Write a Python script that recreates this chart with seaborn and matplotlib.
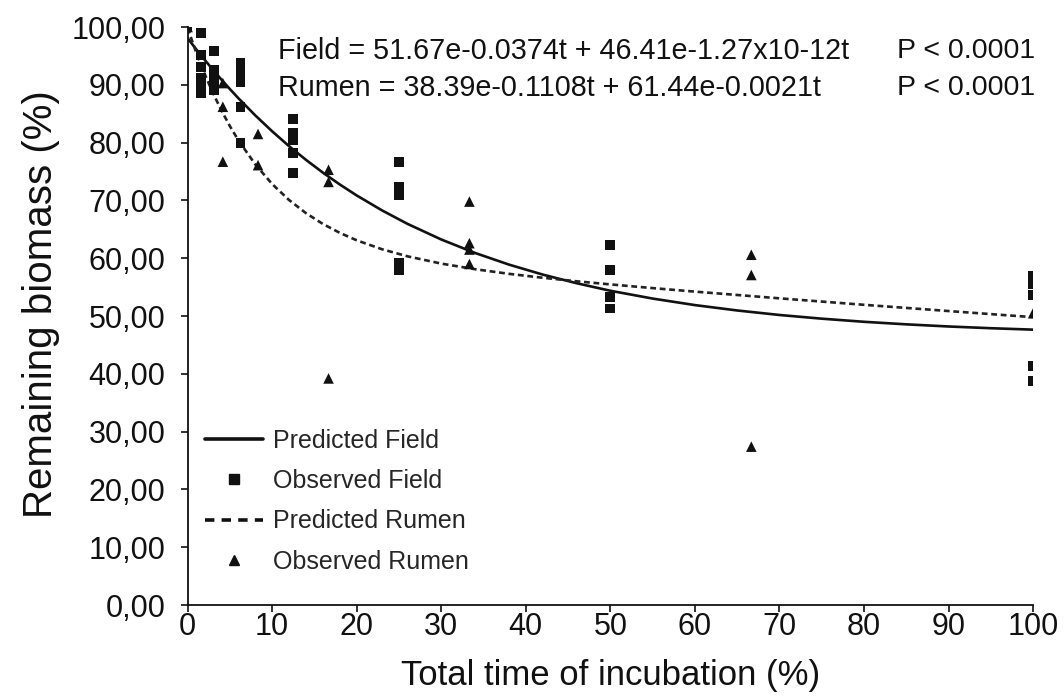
import matplotlib
matplotlib.use("Agg")
import matplotlib.pyplot as plt
from matplotlib.ticker import FuncFormatter
from matplotlib.lines import Line2D
import seaborn as sns
import pandas as pd

# ---- data ----
field_t = [0,
           1.56, 1.56, 1.56, 1.56, 1.56, 1.56,
           3.125, 3.125, 3.125, 3.125,
           6.25, 6.25, 6.25, 6.25, 6.25,
           12.5, 12.5, 12.5, 12.5, 12.5,
           25, 25, 25, 25, 25,
           50, 50, 50, 50,
           100, 100, 100, 100, 100]
field_y = [100,
           99.0, 95.2, 93.1, 91.2, 90.0, 88.6,
           95.8, 92.6, 90.8, 89.1,
           93.8, 92.2, 90.5, 86.2, 80.0,
           84.1, 81.7, 80.4, 78.2, 74.8,
           76.6, 72.3, 70.9, 59.2, 58.0,
           62.3, 58.0, 53.3, 51.3,
           57.0, 55.5, 53.6, 41.3, 38.8]

rumen_t = [0,
           4.17, 4.17, 4.17,
           8.33, 8.33,
           16.67, 16.67, 16.67,
           33.33, 33.33, 33.33, 33.33,
           66.67, 66.67, 66.67,
           100]
rumen_y = [100,
           90.3, 86.2, 76.7,
           81.5, 76.1,
           75.3, 73.2, 39.2,
           69.8, 62.6, 61.5, 59.0,
           60.6, 57.1, 27.4,
           50.5]

# predicted curves
pred_t = [0, 1, 2, 3, 4, 5, 6, 8, 10, 12, 14, 16, 18, 20, 23, 26, 30, 34, 38,
          42, 46, 50, 55, 60, 65, 70, 75, 80, 85, 90, 95, 100]
pred_field = [98.08, 96.18, 94.36, 92.60, 90.90, 89.27, 87.69, 84.72, 81.96,
              79.39, 77.02, 74.81, 72.76, 70.86, 68.27, 65.95, 63.24, 60.91,
              58.90, 57.17, 55.68, 54.37, 53.02, 51.89, 50.96, 50.18, 49.54,
              49.00, 48.56, 48.19, 47.89, 47.64]
pred_rumen = [99.83, 95.67, 91.94, 88.58, 85.58, 82.86, 80.42, 76.24, 72.84,
              70.07, 67.80, 65.93, 64.39, 63.10, 61.55, 60.33, 59.07, 58.10,
              57.30, 56.62, 56.01, 55.47, 54.83, 54.22, 53.64, 53.06, 52.50,
              51.94, 51.40, 50.86, 50.33, 49.80]

eq_field = "Field = 51.67e-0.0374t + 46.41e-1.27x10-12t"
eq_rumen = "Rumen = 38.39e-0.1108t + 61.44e-0.0021t"
p_text = "P < 0.0001"
x_ticks = list(range(0, 101, 10))
y_ticks = list(range(0, 101, 10))

sns.set_style("ticks")
plt.rcParams["font.family"] = ["Liberation Sans", "DejaVu Sans"]

ink = "#111111"
fig = plt.figure(figsize=(10.64, 6.98), dpi=100)
ax = fig.add_axes([0.1763, 0.1332, 0.7947, 0.8281])

df_pred = pd.DataFrame({"t": pred_t, "field": pred_field, "rumen": pred_rumen})
df_f = pd.DataFrame({"t": field_t, "y": field_y})
df_r = pd.DataFrame({"t": rumen_t, "y": rumen_y})

sns.lineplot(data=df_pred, x="t", y="field", ax=ax, color=ink, lw=1.9,
             estimator=None, sort=True)
sns.lineplot(data=df_pred, x="t", y="rumen", ax=ax, color="#222222", lw=1.9,
             estimator=None, sort=True, dashes=False, linestyle=(0, (2.2, 1.4)))
sns.scatterplot(data=df_f, x="t", y="y", ax=ax, marker="s", s=50, color=ink,
                edgecolor="none", zorder=3)
sns.scatterplot(data=df_r, x="t", y="y", ax=ax, marker="^", s=58, color=ink,
                edgecolor="none", zorder=3)

ax.set_xlim(0, 100)
ax.set_ylim(0, 100)
ax.set_xticks(x_ticks)
ax.set_yticks(y_ticks)
ax.yaxis.set_major_formatter(FuncFormatter(lambda v, p: f"{v:.2f}".replace(".", ",")))
ax.tick_params(direction="out", length=5, width=1.2, labelsize=22, colors=ink)
ax.tick_params(axis="y", pad=11)
ax.tick_params(axis="x", pad=0)
for s in ["top", "right"]:
    ax.spines[s].set_visible(False)
for s in ["left", "bottom"]:
    ax.spines[s].set_linewidth(1.3)
    ax.spines[s].set_color(ink)
ax.grid(False)

ax.set_xlabel("Total time of incubation (%)", fontsize=25, color=ink, labelpad=12)
ax.set_ylabel("Remaining biomass (%)", fontsize=29, color=ink)
ax.yaxis.set_label_coords(-0.151, 0.52)

ax.text(10.7, 95.9, eq_field, fontsize=20.7, color=ink, va="center", ha="left")
ax.text(10.7, 89.5, eq_rumen, fontsize=20.7, color=ink, va="center", ha="left")
ax.text(83.9, 95.9, p_text, fontsize=20.5, color=ink, va="center", ha="left")
ax.text(83.9, 89.5, p_text, fontsize=20.5, color=ink, va="center", ha="left")

handles = [
    Line2D([], [], color=ink, lw=2.6),
    Line2D([], [], color=ink, marker="s", ls="none", markersize=7),
    Line2D([], [], color=ink, lw=2.6, ls=(0, (2.6, 2.0))),
    Line2D([], [], color=ink, marker="^", ls="none", markersize=7),
]
labels = ["Predicted Field", "Observed Field", "Predicted Rumen", "Observed Rumen"]
ax.legend(handles, labels, loc="upper left", bbox_to_anchor=(0.0, 0.335),
          frameon=False, fontsize=18, handlelength=2.3, handletextpad=0.4,
          labelspacing=0.65, borderaxespad=0.3)

fig.savefig("out.png", dpi=100)
